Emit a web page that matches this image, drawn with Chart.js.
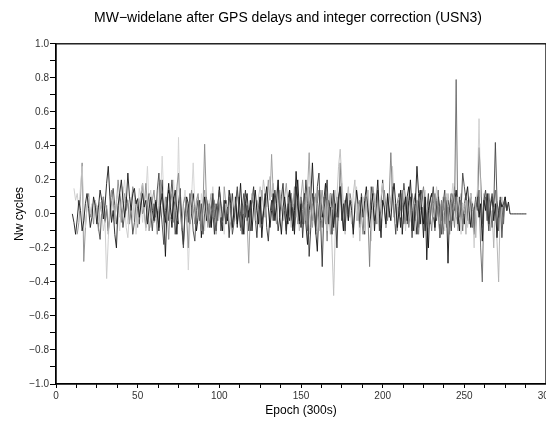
<!DOCTYPE html>
<html>
<head>
<meta charset="utf-8">
<script src="https://cdn.jsdelivr.net/npm/chart.js@4"></script>
<style>
html,body{margin:0;padding:0;background:#fff;}
#wrap{width:546px;height:428px;}
</style>
</head>
<body>
<div id="wrap"><canvas id="c" width="546" height="428"></canvas></div>
<script>
// ---- data ----
const titleText = "MW\u2212widelane after GPS delays and integer correction (USN3)";
const xTitle = "Epoch (300s)";
const yTitle = "Nw cycles";
const xMajorTicks = [0, 50, 100, 150, 200, 250, 300];
const yMajorTicks = [-1.0, -0.8, -0.6, -0.4, -0.2, 0.0, 0.2, 0.4, 0.6, 0.8, 1.0];

// first epoch of each satellite arc
const seriesStart = [10, 11, 13, 25, 30, 60, 85, 95, 120, 140, 150, 165, 185, 210, 228, 235];

const s1 = [0.00,-0.05,-0.12,-0.03,0.08,0.02,-0.10,-0.04,0.06,0.12,0.03,-0.08,-0.02,0.10,0.05,-0.06,0.04,0.14,0.08,-0.03,0.05,0.18,0.28,0.10,-0.05,0.02,-0.12,-0.20,0.05,0.12,0.20,0.08,-0.02,0.06,0.24,0.10,0.02,0.12,0.15,0.06,0.09,-0.02,0.05,0.12,0.04,0.08,-0.06,0.03,0.10,0.02,-0.04,0.07,0.00,-0.08,0.05,0.12,0.02,-0.05,0.06,0.18,0.04,-0.03,0.08,0.14,0.02,-0.06];
const s2 = [0.15,0.08,0.12,0.02,0.16,0.28,0.05,-0.08,0.04,0.10,0.00,0.06,-0.02,0.08,0.03,-0.05,0.07,0.02,-0.10,-0.04,-0.38,-0.15,0.05,0.10,0.02,-0.06,0.08,0.12,-0.02,0.04,0.16,0.06,-0.08,-0.14,0.02,0.08,-0.04,0.10,0.05,-0.06,0.03,0.12,0.18,0.04,-0.10,-0.02,0.08,0.14,0.03,-0.05];
const s3 = [-0.12,-0.05,0.10,0.30,-0.28,-0.08,0.05,0.12,-0.02,0.04,-0.06,0.08,0.02,-0.10,0.06,0.00,0.10,-0.04,0.05,-0.12,0.02,0.14,0.08,-0.03,0.06,0.20,0.10,-0.05,0.04,0.12,0.02,0.08,-0.06,0.05,0.16,0.10,0.03,-0.08,0.06,0.12,0.00,0.04,0.18,0.06,-0.10,-0.02,0.08,0.14,0.02,-0.12,0.05,0.20,0.08,-0.04,0.10,0.02,-0.15,0.06,0.12,-0.05,0.04,0.16,0.24,0.02,-0.08,0.06,0.10,-0.02,-0.20,0.05,0.14,0.03,-0.06,0.08,0.12,0.00,-0.10,0.04,0.41,0.10,-0.05,0.06,0.02];
const s4 = [0.05,-0.08,-0.15,0.02,0.10,-0.05,0.03,-0.10,-0.02,0.08,0.15,0.05,-0.06,0.02,0.12,0.04,-0.08,0.00,0.10,0.06,-0.04,0.02,-0.12,-0.05,0.08,0.03,-0.06,0.10,0.18,0.02,-0.08,0.04,0.12,0.00,-0.10,0.06,-0.02,0.14,0.24,0.05,-0.06,-0.18,0.02,0.10,-0.04,0.08,0.20,0.06,-0.12,-0.02,0.05,0.10,-0.08,-0.20,0.00,0.08,-0.05,0.12,0.04,-0.10,-0.16,0.02,0.08,-0.04,0.06,-0.12,0.00,0.10,0.04,-0.08,0.02,0.12,-0.02,-0.10,0.05,0.14,0.06,-0.04,0.08,-0.06,0.00,0.10,0.03,-0.12,-0.05,0.06,0.16,0.02,-0.08,0.04,0.12,-0.02,0.05,-0.10,0.02,0.08];
const s5 = [0.10,0.02,-0.08,0.05,0.14,0.06,-0.04,0.08,0.00,-0.10,0.04,0.12,0.20,0.06,-0.06,0.02,0.10,-0.02,0.08,-0.12,0.03,0.15,0.08,-0.05,0.06,0.12,0.28,0.04,-0.08,0.10,0.02,-0.04,0.06,0.18,0.08,0.34,0.10,-0.06,0.04,0.12,-0.02,0.08,0.20,0.06,-0.04,0.45,0.02,-0.10,0.06,0.14,0.00,-0.33,-0.08,0.10,0.30,0.05,-0.02,0.08,-0.06,0.12,0.04,-0.10,0.02,0.08,-0.04,0.06,0.16,0.02,-0.08,0.05,0.10,-0.02,0.04,-0.12,0.06,0.00,0.08,-0.05,0.03,0.10,-0.04];
const s6 = [-0.05,0.08,0.02,-0.10,0.12,0.20,-0.02,-0.25,0.05,0.14,0.02,-0.08,0.10,0.04,-0.12,0.06,0.15,-0.04,-0.18,0.02,0.10,0.06,-0.06,0.00,0.12,0.04,-0.10,-0.02,0.08,-0.14,0.02,0.10,-0.04,0.06,0.00,-0.08,0.12,0.05,-0.06,0.02,0.16,0.04,-0.10,0.00,0.08,-0.04,0.14,0.06,-0.08,0.02,0.10,-0.06,0.04,0.18,0.00,-0.12,0.06,0.12,-0.02,0.08,-0.10,0.04,0.14,0.02,-0.06,0.10,-0.14,0.00,0.08,0.16,0.04,-0.08,0.02,0.12,-0.04,0.06,0.20,-0.02,-0.12,0.04,0.10,0.00,-0.06,0.14,0.06,-0.10,0.02,0.25,0.08,-0.04,0.06];
const s7 = [0.04,-0.06,0.10,0.02,-0.10,0.06,0.14,0.00,-0.08,0.05,0.12,-0.02,0.08,-0.12,0.02,0.10,0.04,-0.06,0.16,0.06,-0.04,0.02,0.12,-0.08,0.00,0.08,0.14,0.04,-0.10,0.06,0.00,0.10,-0.05,-0.29,0.02,0.12,0.06,-0.04,0.08,0.02,-0.08,0.14,0.04,-0.02,0.10,0.20,0.08,0.35,0.12,0.02,-0.06,0.08,0.14,0.04,-0.04,0.10,0.18,0.06,-0.02,0.12,0.04,0.16,0.08,-0.06,0.02,0.10,0.20,0.06,-0.04,0.14,0.36,0.08,-0.08,0.04,0.12,0.00,-0.10,0.06,0.14,0.02,-0.06,0.08,0.04,-0.12,0.02,0.06];
const s8 = [-0.08,0.02,-0.12,0.06,-0.04,0.10,-0.10,0.00,0.08,-0.06,0.04,-0.14,0.02,0.12,-0.02,0.06,-0.08,0.10,0.00,-0.12,0.04,0.14,-0.04,0.02,-0.10,0.08,0.16,-0.02,-0.14,0.04,0.10,-0.06,0.02,0.12,-0.08,-0.16,0.00,0.08,-0.04,0.14,0.04,-0.10,-0.02,0.10,0.18,0.02,-0.12,0.06,-0.04,0.12,0.00,-0.08,0.16,0.04,-0.06,0.10,-0.14,0.02,0.20,0.06,-0.25,-0.08,0.12,0.04,-0.10,0.16,0.24,-0.04,-0.31,0.02,0.10,0.20,-0.06,0.04,-0.12,0.14,0.02,-0.20,0.08,0.16,-0.04,0.06,-0.10,0.12,0.00,0.08];
const s9 = [0.06,0.12,0.02,-0.06,0.10,0.16,0.08,0.20,0.12,0.04,0.14,0.22,0.10,0.18,0.06,0.12,0.20,0.08,0.02,0.14,0.06,-0.04,0.10,0.02,-0.08,0.06,0.12,-0.02,0.04,-0.10,0.08,0.02,-0.06,0.10,0.04,-0.12,0.00,0.06,-0.04,0.10,0.02,-0.08,0.14,0.04,-0.02,0.08,-0.10,0.06,0.12,-0.20,-0.48,-0.10,0.10,0.28,0.38,0.20,0.05,-0.12,0.08,0.16,0.02,-0.06,0.12,0.20,-0.04,0.06,-0.16,0.02,0.10,-0.08,0.04,0.14,-0.02,-0.10,0.06,0.12,0.00,-0.06,0.08,0.02,-0.04];
const s10 = [0.02,-0.10,0.08,0.14,-0.04,0.06,-0.12,0.10,0.20,0.02,-0.08,0.04,0.12,-0.06,-0.18,0.02,0.10,0.30,0.06,-0.10,-0.22,0.04,0.14,-0.02,0.08,0.18,-0.06,0.00,0.12,0.04,-0.08,0.06,-0.02,0.10,0.16,0.02,-0.10,0.06,0.12,-0.04,0.08,0.02,-0.12,0.04,0.14,0.06,-0.06,0.10,-0.02,0.08,0.16,0.04,-0.08,0.02,0.12,-0.10,0.06,0.20,0.00,-0.14,0.08,0.04,-0.06,0.12,0.02,-0.04,0.10,0.18,0.06,-0.08,0.02,0.14,-0.12,0.04,0.10,-0.04,0.08,0.20,0.02,-0.10,0.06,0.28,0.12,-0.06,0.04,-0.14,0.10,-0.27,0.02,0.08,0.12];
const s11 = [0.08,-0.06,0.12,0.04,-0.10,0.16,0.02,-0.04,0.10,-0.12,0.06,0.14,0.00,-0.08,0.10,0.04,-0.16,0.08,0.02,0.12,-0.06,0.04,0.10,-0.02,0.30,0.06,-0.10,0.08,0.02,-0.04,0.12,0.06,-0.08,0.02,0.14,-0.04,0.08,0.00,-0.12,0.06,0.10,-0.02,-0.31,0.04,0.16,0.08,-0.06,0.12,0.02,-0.08,0.06,0.14,0.04,-0.04,0.10,0.36,0.12,-0.02,0.06,-0.10,0.08,0.02,0.14,-0.06,0.04,0.10,-0.08,0.02,0.12,0.06,-0.04,0.08,-0.12,0.02,0.10,0.16,0.04,-0.06,0.08,0.00,-0.10,0.06,0.12,-0.02,0.04,-0.14,0.08,0.02,0.10,-0.06,0.04,-0.12,0.06,0.02,-0.08,0.10,0.04,-0.02,0.08,-0.06,0.02];
const s12 = [0.04,0.12,-0.06,0.08,0.02,-0.10,0.14,0.06,-0.04,0.10,0.18,0.02,-0.08,0.06,0.12,-0.02,0.04,-0.14,0.08,0.16,0.02,-0.06,0.10,0.04,-0.10,0.06,0.14,0.00,-0.16,0.08,0.04,0.12,-0.04,0.02,0.10,0.18,0.06,-0.08,0.04,0.12,0.02,0.28,0.08,-0.06,0.04,0.10,-0.02,0.06,0.14,-0.10,0.02,0.08,-0.04,0.12,0.04,-0.12,0.06,0.10,0.00,-0.06,0.08,0.14,0.02,-0.08,0.04,0.10,-0.02,0.06,0.16,0.04,-0.06,0.08,0.02,-0.10,0.12,0.04,-0.04,0.08,0.18,0.06,-0.02,0.10,0.04,-0.12,0.06,0.00,0.08,-0.08,0.04,0.12,0.02,-0.20,0.06,0.14,0.56,0.10];
const s13 = [0.06,-0.08,0.12,0.02,-0.12,0.10,0.04,-0.06,0.16,0.08,-0.04,0.02,0.14,-0.10,0.06,0.20,0.04,-0.08,0.10,-0.02,0.08,0.16,0.02,-0.12,0.06,0.12,-0.04,0.04,0.18,0.08,-0.06,0.02,0.10,-0.14,0.06,0.12,0.02,-0.08,0.08,0.14,0.04,-0.10,0.02,0.12,-0.06,0.08,0.16,0.00,-0.04,0.10,0.04,-0.12,0.06,0.14,-0.02,0.08,0.02,-0.10,0.06,0.12,0.04,-0.06,0.10,0.02,0.24,0.16,0.08,-0.04,0.06,0.12,-0.08,0.02,0.10,0.04,0.39,0.20,-0.06,0.08,0.14,0.02,-0.10,0.06,0.12,0.04,0.42,0.08,-0.02,0.10,-0.14,0.04,0.08,0.02,0.06];
const s14 = [0.04,-0.08,0.12,0.02,-0.06,0.10,0.16,0.04,-0.10,0.06,0.00,-0.12,0.08,0.14,0.02,-0.06,0.10,-0.04,-0.20,0.06,0.12,0.02,-0.08,0.04,0.10,-0.14,0.06,0.00,-0.06,0.08,-0.29,0.02,0.12,-0.04,0.06,0.14,0.02,-0.10,0.08,0.04,-0.06,0.10,0.16,0.02,-0.08,0.06,-0.12,0.04,0.10,-0.02,0.06,-0.16,0.08,0.02,0.12,-0.06,0.04,0.10,-0.04,0.06,-0.14,0.02,0.08,0.04,0.06,0.10,0.02,0.07,0.00,0.00,0.00,0.00,0.00,0.00,0.00,0.00,0.00,0.00,0.00];
const s15 = [0.04,-0.06,0.10,0.02,-0.10,0.08,0.14,-0.02,0.06,-0.12,0.02,0.10,0.04,-0.08,0.06,0.12,0.02,0.79,-0.04,0.08,0.02,-0.10,0.06,0.12,0.00,-0.06,0.10,0.04,-0.12,0.08,0.02,0.14,-0.20,-0.40,0.06,0.10,-0.04,0.12,0.02,-0.08,0.06,0.14,0.00,-0.10,0.08,0.04,-0.06,0.10,0.02];
const s16 = [0.06,-0.04,0.10,0.02,-0.08,0.12,0.04,-0.06,0.08,0.16,0.02,-0.10,0.06,0.12,-0.02,0.04,-0.12,0.08,0.02,0.10,-0.06,0.04,-0.14,0.06,0.10,0.00,-0.08,0.12,0.04,-0.04,0.08,-0.10,0.02,-0.20,0.06,-0.16,-0.40,0.04,0.10,-0.02,0.06,0.02];

const seriesValues = [s1, s2, s3, s4, s5, s6, s7, s8, s9, s10, s11, s12, s13, s14, s15, s16];

// ---- styles ----
const lineColors = ['#1a1a1a','#c8c8c8','#8a8a8a','#454545','#d2d2d2','#111111','#9a9a9a','#333333',
                    '#bdbdbd','#151515','#7a7a7a','#cccccc','#444444','#111111','#666666','#b0b0b0'];

const datasets = seriesValues.map((vals, i) => ({
  label: 'sat' + (i + 1),
  data: vals.map((v, k) => ({x: seriesStart[i] + k, y: v})),
  borderColor: lineColors[i],
  borderWidth: 0.9,
  pointRadius: 0,
  fill: false,
  tension: 0
}));

const fmt = v => {
  const r = Math.round(v * 10) / 10;
  if (Math.abs(r) < 1e-9) return '0.0';
  return (r < 0 ? '\u2212' : '') + Math.abs(r).toFixed(1);
};

const boxPlugin = {
  id: 'box',
  afterLayout(chart) {
    if (chart.titleBlock) { chart.titleBlock.left = 30; }
  },
  afterDraw(chart) {
    const a = chart.chartArea, ctx = chart.ctx;
    ctx.save();
    ctx.strokeStyle = '#000';
    ctx.lineWidth = 1.3;
    ctx.strokeRect(a.left, a.top, a.right - a.left, a.bottom - a.top);
    ctx.restore();
  }
};

new Chart(document.getElementById('c'), {
  type: 'line',
  data: {datasets},
  options: {
    responsive: false,
    animation: false,
    events: [],
    layout: {padding: 0},
    plugins: {
      legend: {display: false},
      tooltip: {enabled: false},
      title: {
        display: true,
        text: titleText,
        color: '#000',
        font: {family: 'Liberation Sans, Arial, sans-serif', size: 14, weight: 'normal'},
        padding: {top: 10, bottom: 17}
      }
    },
    scales: {
      x: {
        type: 'linear',
        min: 0, max: 300,
        afterFit(s) { s.height = 44; s.paddingLeft = 0; s.paddingRight = 0; },
        border: {display: true, color: '#000', width: 1.3},
        grid: {drawOnChartArea: false, drawTicks: true, tickLength: 4, color: '#000', lineWidth: 1},
        ticks: {
          stepSize: 12.5, autoSkip: false, maxRotation: 0, padding: 2,
          color: '#333',
          font: {family: 'Liberation Sans, Arial, sans-serif', size: 10},
          callback: v => xMajorTicks.includes(v) ? String(v) : ''
        },
        title: {display: true, text: xTitle, color: '#000',
                font: {family: 'Liberation Sans, Arial, sans-serif', size: 12},
                padding: {top: 0, bottom: 10}}
      },
      y: {
        type: 'linear',
        min: -1, max: 1,
        afterFit(s) { s.width = 56; s.paddingTop = 0; s.paddingBottom = 0; },
        border: {display: true, color: '#000', width: 1.3},
        grid: {drawOnChartArea: false, drawTicks: true, tickLength: 6, color: '#000', lineWidth: 1},
        ticks: {
          stepSize: 0.1, autoSkip: false, padding: 1,
          color: '#333',
          font: {family: 'Liberation Sans, Arial, sans-serif', size: 10},
          callback: v => yMajorTicks.some(t => Math.abs(t - v) < 1e-6) ? fmt(v) : ''
        },
        title: {display: true, text: yTitle, color: '#000',
                font: {family: 'Liberation Sans, Arial, sans-serif', size: 12},
                padding: {top: 12, bottom: 0}}
      }
    }
  },
  plugins: [boxPlugin]
});
</script>
</body>
</html>
